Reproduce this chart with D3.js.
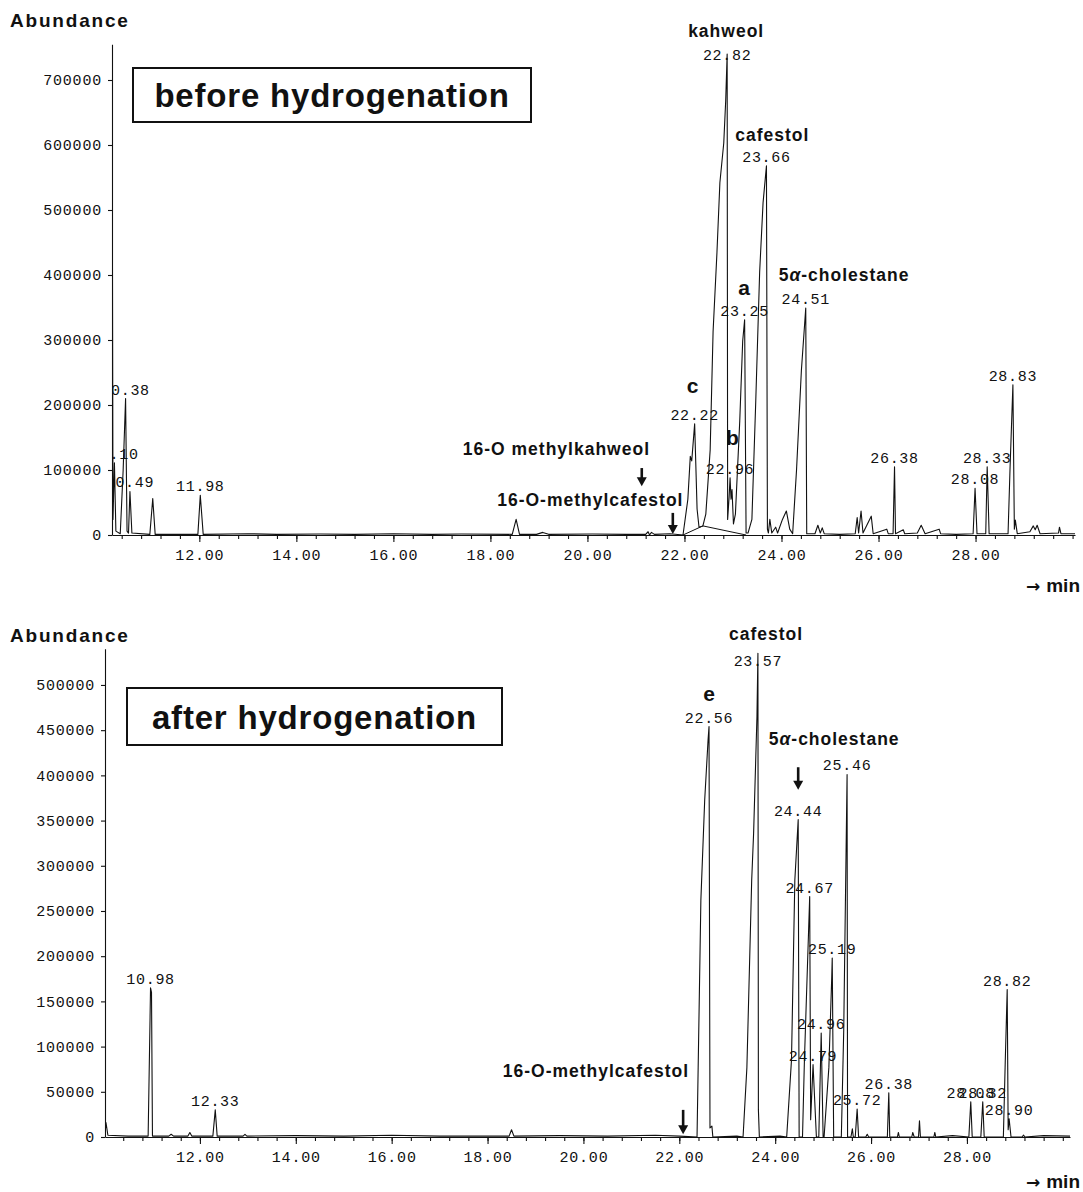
<!DOCTYPE html>
<html><head><meta charset="utf-8">
<script src="https://cdn.jsdelivr.net/npm/d3@7"></script>
<style>
html,body{margin:0;padding:0;background:#fff;}
svg{display:block;}
.mono{font-family:"Liberation Mono","Courier New",monospace;font-size:15px;letter-spacing:0.7px;fill:#111;}
.bold{font-family:"Liberation Sans",Arial,Helvetica,sans-serif;font-weight:bold;fill:#111;}
.axis path,.axis line{stroke:#111;stroke-width:1.1px;}
.axis text{font-family:"Liberation Mono","Courier New",monospace;font-size:15px;letter-spacing:0.8px;fill:#111;}
</style></head><body>
<svg id="c" width="1083" height="1192"></svg>
<script>
// ---------------- DATA ----------------
const panelTitles = ["before hydrogenation", "after hydrogenation"];
const xTickValues = [12, 14, 16, 18, 20, 22, 24, 26, 28];
const topYTicks = [0, 100000, 200000, 300000, 400000, 500000, 600000, 700000];
const botYTicks = [0, 50000, 100000, 150000, 200000, 250000, 300000, 350000, 400000, 450000, 500000];

// chromatogram before hydrogenation: [retention time (min), abundance]
const topTrace = [
[10.20,750000],[10.22,24000],[10.25,111000],[10.28,6000],[10.37,2000],[10.43,100000],[10.48,210000],[10.51,6000],
[10.54,3000],[10.57,67000],[10.61,3000],[10.98,1000],[11.04,56000],[11.09,1000],[11.97,1000],[12.02,61000],[12.08,1000],
[13.0,2000],[13.6,1000],[14.5,1500],[15.2,1000],[16.0,2000],[16.8,1000],[17.4,1500],[18.45,1000],[18.53,24000],[18.60,1000],
[18.95,1000],[19.08,4000],[19.20,1000],[20.1,1500],[20.8,1000],[21.20,1000],[21.25,5000],[21.28,0],[21.32,4000],[21.38,1000],
[21.7,2000],[21.97,0],
[22.07,55000],[22.12,121000],[22.15,114000],[22.21,171000],[22.26,40000],[22.30,12000],[22.38,14000],[22.44,32000],
[22.53,131000],[22.59,313000],[22.67,435000],[22.73,542000],[22.81,603000],[22.85,668000],[22.88,740000],[22.89,24000],
[22.92,58000],[22.94,88000],[22.96,55000],[22.98,70000],[23.01,17000],[23.05,32000],[23.14,176000],[23.20,298000],
[23.24,331000],[23.27,3000],[23.31,3000],[23.39,24000],[23.47,207000],[23.55,405000],[23.62,511000],[23.69,568000],
[23.71,9000],[23.73,3000],[23.76,24000],[23.80,3000],[23.88,12000],[23.92,3000],[24.02,24000],[24.10,37000],[24.17,9000],
[24.23,2000],[24.31,100000],[24.41,253000],[24.50,349000],[24.52,2000],[24.69,2000],[24.75,15000],[24.80,3000],[24.84,11000],
[24.88,2000],[25.2,1000],[25.52,2000],[25.56,27000],[25.59,3000],[25.64,37000],[25.68,3000],[25.85,29000],[25.89,2000],
[26.17,9000],[26.20,2000],[26.30,2000],[26.33,105000],[26.35,2000],[26.51,8000],[26.54,2000],[26.80,3000],[26.88,15000],
[26.96,2000],[27.25,9000],[27.28,2000],[27.6,1000],[27.95,2000],[27.99,72000],[28.03,2000],[28.21,2000],[28.24,105000],
[28.28,2000],[28.67,2000],[28.71,100000],[28.77,231000],[28.80,9000],[28.82,23000],[28.86,2000],[29.12,5000],[29.19,14000],
[29.23,8000],[29.27,15000],[29.33,2000],[29.71,3000],[29.73,12000],[29.76,2000],[30.05,2000]
];
// integration baseline drawn under the c / kahweol group
const topIntegration = [[21.97,0],[22.38,14000],[23.27,0]];

// chromatogram after hydrogenation
const botTrace = [
[10.02,3000],[10.04,16000],[10.08,2000],[10.5,1000],[10.92,1000],[10.97,165000],[10.99,160000],[11.01,1000],
[11.35,1000],[11.40,3000],[11.45,1000],[11.75,1000],[11.79,5000],[11.83,1000],[12.27,1000],[12.32,30000],[12.36,1000],
[12.90,1000],[12.94,3000],[12.98,1000],[14.0,1500],[15.0,1000],[16.0,2000],[17.0,1000],[18.45,1000],[18.50,8000],
[18.55,1000],[19.5,1500],[20.5,1000],[21.5,2000],[22.0,1000],[22.37,0],
[22.45,262000],[22.53,373000],[22.60,439000],[22.62,454000],[22.64,10000],[22.68,12000],[22.70,0],[23.2,1000],
[23.33,0],[23.41,77000],[23.51,284000],[23.55,336000],[23.62,465000],[23.64,535000],[23.65,30000],[23.67,0],[24.1,1000],
[24.24,0],[24.34,85000],[24.41,284000],[24.48,351000],[24.50,0],[24.57,0],[24.61,85000],[24.72,266000],[24.74,19000],
[24.79,80000],[24.86,0],[24.91,0],[24.96,115000],[25.00,0],[25.02,0],[25.12,77000],[25.18,177000],[25.19,198000],[25.22,0],
[25.38,0],[25.43,118000],[25.50,401000],[25.51,0],[25.58,0],[25.61,9000],[25.63,0],[25.67,0],[25.71,31000],[25.74,0],
[25.89,0],[25.92,3000],[25.95,0],[26.34,0],[26.37,49000],[26.39,0],[26.55,0],[26.57,5000],[26.59,0],[26.85,0],[26.87,5000],
[26.90,0],[26.99,0],[27.01,18000],[27.03,0],[27.31,0],[27.33,5000],[27.35,0],[27.7,1500],[28.04,0],[28.08,39000],[28.11,0],
[28.29,0],[28.33,39000],[28.36,0],[28.76,0],[28.80,85000],[28.84,163000],[28.86,8000],[28.88,20000],[28.92,0],
[29.15,0],[29.18,2000],[29.21,0],[29.6,1500],[30.15,1000]
];

// retention-time labels: [text, time of apex, apex abundance]
const topPeakLabels = [
["10.10",10.25,111000],["10.38",10.48,210000],["10.49",10.57,67000],["11.98",12.02,61000],["22.22",22.21,171000],
["22.82",22.88,740000],["22.96",22.94,88000],["23.25",23.24,331000],["23.66",23.69,568000],["24.51",24.50,349000],
["26.38",26.33,105000],["28.08",27.99,72000],["28.33",28.24,105000],["28.83",28.77,231000]
];
const botPeakLabels = [
["10.98",10.97,165000],["12.33",12.32,30000],["22.56",22.62,454000],["23.57",23.64,535000],["24.44",24.48,351000],
["24.67",24.72,266000],["24.79",24.79,80000],["24.96",24.96,115000],["25.19",25.19,198000],["25.46",25.50,401000],
["25.72",25.71,31000],["26.38",26.37,49000],["28.08",28.08,39000],["28.32",28.33,39000],["28.82",28.84,163000],
["28.90",28.88,20000]
];

// compound names: [text, time, abundance level of text baseline, kind]
const topCompounds = [
["kahweol",22.86,766000,"name"],["cafestol",23.81,606000,"name"],["5α-cholestane",25.29,391000,"name"],
["a",23.23,369000,"letter"],["c",22.17,218000,"letter"],["b",22.99,138000,"letter"],
["16-O methylkahweol",19.36,123000,"name"],["16-O-methylcafestol",20.06,45000,"name"]
];
const botCompounds = [
["cafestol",23.81,550000,"name"],["e",22.62,482000,"letter"],["5α-cholestane",25.23,434000,"name"],
["16-O-methylcafestol",20.26,66000,"name"]
];
// arrows: [time, abundance start, abundance tip]
const topArrows = [[21.12,103000,75000],[21.76,34000,1500]];
const botArrows = [[24.48,409000,384000],[22.08,30000,3000]];

// ---------------- DRAW ----------------
const svg = d3.select("#c");

function drawPanel(p) {
  const g = svg.append("g");
  const x = d3.scaleLinear().domain(p.xDomain).range(p.xRange);
  const y = d3.scaleLinear().domain(p.yDomain).range(p.yRange);
  const clipId = "clip" + p.id;
  g.append("clipPath").attr("id", clipId).append("rect")
    .attr("x", p.xRange[0] + 1).attr("y", 0).attr("width", 1083).attr("height", p.yRange[0] + 2);

  // y axis
  g.append("g").attr("class", "axis").attr("transform", `translate(${p.xRange[0]},0)`)
    .call(d3.axisLeft(y).tickValues(p.yTicks).tickSize(4).tickSizeOuter(0).tickPadding(6).tickFormat(d3.format("d")));

  // x axis: minor ticks
  const minor = d3.range(Math.ceil(p.xDomain[0] / 0.4 - 1e-6) * 0.4, p.xDomain[1], 0.4);
  g.append("g").attr("class", "axis").attr("transform", `translate(0,${p.yRange[0]})`)
    .call(d3.axisBottom(x).tickValues(minor).tickSize(4).tickSizeOuter(0).tickFormat(""));
  g.append("g").attr("class", "axis").attr("transform", `translate(0,${p.yRange[0]})`)
    .call(d3.axisBottom(x).tickValues(xTickValues).tickSize(7).tickSizeOuter(0).tickPadding(7).tickFormat(d3.format(".2f")))
    .select(".domain").remove();

  // retention time labels (drawn under the trace)
  g.append("g").attr("clip-path", `url(#${clipId})`).selectAll("text").data(p.peakLabels).join("text")
    .attr("class", "mono").attr("text-anchor", "middle")
    .attr("x", d => x(d[1])).attr("y", d => Math.max(y(d[2]) - 4, p.labelClamp)).text(d => d[0]);

  // integration baseline
  if (p.integration) {
    g.append("path").datum(p.integration).attr("fill", "none").attr("stroke", "#111").attr("stroke-width", 1)
      .attr("d", d3.line().x(d => x(d[0])).y(d => y(d[1])));
  }
  // trace
  g.append("path").datum(p.trace).attr("clip-path", `url(#${clipId})`).attr("fill", "none")
    .attr("stroke", "#111").attr("stroke-width", 1.1).attr("stroke-linejoin", "round")
    .attr("d", d3.line().x(d => x(d[0])).y(d => y(d[1])));

  // compound names
  const cn = g.append("g").selectAll("text").data(p.compounds).join("text")
    .attr("class", "bold").attr("text-anchor", "middle")
    .attr("x", d => x(d[1])).attr("y", d => y(d[2]))
    .style("font-size", d => d[3] === "letter" ? "21px" : "17.5px")
    .style("letter-spacing", d => d[3] === "letter" ? "0px" : "1px");
  cn.each(function(d) {
    const t = d3.select(this);
    if (d[0].startsWith("5α")) {
      t.append("tspan").text("5");
      t.append("tspan").style("font-style", "italic").text("α");
      t.append("tspan").text(d[0].slice(2));
    } else t.text(d[0]);
  });

  // arrows
  const ag = g.append("g");
  p.arrows.forEach(a => {
    const ax = x(a[0]), y1 = y(a[1]), y2 = y(a[2]);
    ag.append("line").attr("x1", ax).attr("x2", ax).attr("y1", y1).attr("y2", y2 - 6)
      .attr("stroke", "#111").attr("stroke-width", 2.6);
    ag.append("path").attr("fill", "#111")
      .attr("d", `M${ax - 5},${y2 - 9} L${ax + 5},${y2 - 9} L${ax},${y2} Z`);
  });

  // axis titles
  g.append("text").attr("class", "bold").attr("x", 10).attr("y", p.abundY)
    .style("font-size", "19px").style("letter-spacing", "1.8px").text("Abundance");
  const mt = g.append("text").attr("class", "bold").attr("x", 1080).attr("y", p.minY).attr("text-anchor", "end")
    .style("font-size", "19px");
  mt.append("tspan").style("font-family", "'DejaVu Sans',sans-serif").style("font-size", "17px").text("→ ");
  mt.append("tspan").text("min");

  // title box
  g.append("rect").attr("x", p.box[0]).attr("y", p.box[1]).attr("width", p.box[2]).attr("height", p.box[3])
    .attr("fill", "#fff").attr("stroke", "#111").attr("stroke-width", 2);
  g.append("text").attr("class", "bold").attr("text-anchor", "middle")
    .attr("x", p.box[0] + p.box[2] / 2).attr("y", p.box[1] + p.box[3] / 2 + 12)
    .style("font-size", "33px").style("letter-spacing", "0.8px").text(p.title);
}

drawPanel({
  id: "top", xDomain: [10.2, 30.05], xRange: [112, 1075], yDomain: [0, 755000], yRange: [535, 44.25],
  yTicks: topYTicks, trace: topTrace, integration: topIntegration, peakLabels: topPeakLabels, labelClamp: 60,
  compounds: topCompounds, arrows: topArrows, abundY: 27, minY: 592, box: [133, 68, 398, 54], title: panelTitles[0]
});
drawPanel({
  id: "bot", xDomain: [10.02, 30.15], xRange: [105, 1070], yDomain: [0, 540000], yRange: [1137, 648.8],
  yTicks: botYTicks, trace: botTrace, integration: null, peakLabels: botPeakLabels, labelClamp: 666,
  compounds: botCompounds, arrows: botArrows, abundY: 642, minY: 1188, box: [127, 688, 375, 57], title: panelTitles[1]
});
</script></body></html>
